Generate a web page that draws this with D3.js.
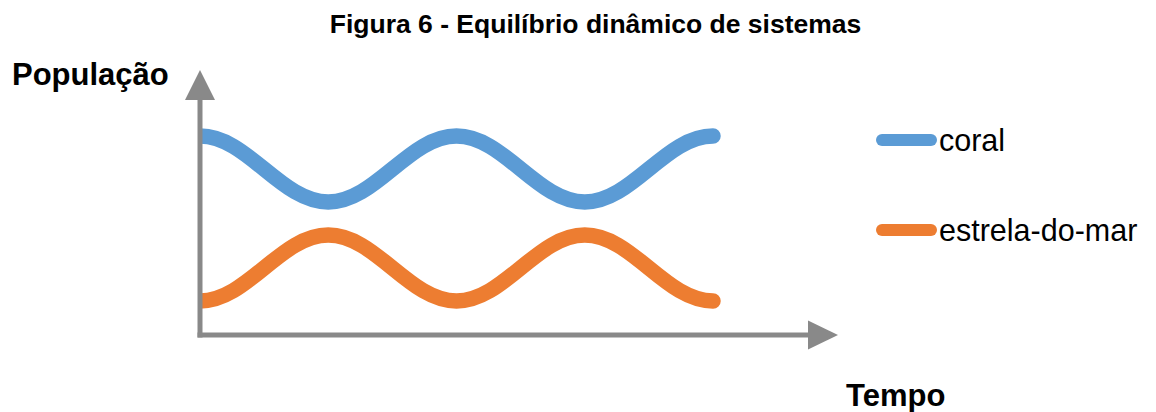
<!DOCTYPE html>
<html>
<head>
<meta charset="utf-8">
<script src="https://cdn.jsdelivr.net/npm/d3@7"></script>
<style>
  html, body { margin: 0; padding: 0; background: #fff; }
  svg { display: block; font-family: "Liberation Sans", Arial, sans-serif; }
</style>
</head>
<body>
<script>
// ---- data ----
const periods = [1, 2, 3, 4, 5];
const coral = [8, 6, 8, 6, 8];
const estrela = [3, 5, 3, 5, 3];
const seriesNames = ["coral", "estrela-do-mar"];
const colors = ["#5B9BD5", "#ED7D31"];
const titleText = "Figura 6 - Equilíbrio dinâmico de sistemas";
const yLabel = "População";
const xLabel = "Tempo";

const W = 1156, H = 412;
const svg = d3.select("body").append("svg").attr("width", W).attr("height", H);

const x = d3.scalePoint().domain(periods).range([200, 713]);
const y = d3.scaleLinear().domain([2, 9]).range([334, 103]);

// smooth curve with horizontal tangents at each data point (wave-like)
function curveWave(context) {
  const a = 0.37;
  let x0, y0, n;
  return {
    areaStart() {}, areaEnd() {},
    lineStart() { n = 0; },
    lineEnd() {},
    point(px, py) {
      px = +px; py = +py;
      if (n === 0) context.moveTo(px, py);
      else {
        const h = px - x0;
        context.bezierCurveTo(x0 + a * h, y0, px - a * h, py, px, py);
      }
      x0 = px; y0 = py; n++;
    }
  };
}

// title
svg.append("text").attr("x", 595.5).attr("y", 33)
  .attr("text-anchor", "middle").attr("font-size", 26.5).attr("font-weight", "bold")
  .attr("fill", "#000").text(titleText);

// clip
svg.append("defs").append("clipPath").attr("id", "plotclip")
  .append("rect").attr("x", 200).attr("y", 0).attr("width", 600).attr("height", H);

const line = d3.line()
  .x((d, i) => x(periods[i]))
  .y(d => y(d))
  .curve(curveWave);

const g = svg.append("g").attr("clip-path", "url(#plotclip)");
[coral, estrela].forEach((vals, k) => {
  g.append("path").datum(vals)
    .attr("d", line)
    .attr("fill", "none")
    .attr("stroke", colors[k])
    .attr("stroke-width", 15.5)
    .attr("stroke-linecap", "round")
    .attr("stroke-linejoin", "round");
});

// axes
const axisColor = "#898989";
const x0 = x.range()[0];
const yBase = 335;
svg.append("line").attr("x1", x0).attr("x2", x0).attr("y1", yBase + 2.5).attr("y2", 98)
  .attr("stroke", axisColor).attr("stroke-width", 5);
svg.append("path").attr("d", `M${x0},70 L${x0 + 15},100 L${x0 - 15},100 Z`).attr("fill", axisColor);
svg.append("line").attr("x1", x0 - 2.5).attr("x2", 810).attr("y1", yBase).attr("y2", yBase)
  .attr("stroke", axisColor).attr("stroke-width", 5);
svg.append("path").attr("d", `M838,${yBase} L808,${yBase - 14.5} L808,${yBase + 14.5} Z`).attr("fill", axisColor);

// axis labels
svg.append("text").attr("x", 12).attr("y", 85).attr("font-size", 31).attr("font-weight", "bold")
  .attr("fill", "#000").text(yLabel);
svg.append("text").attr("x", 846).attr("y", 406).attr("font-size", 31).attr("font-weight", "bold")
  .attr("fill", "#000").text(xLabel);

// legend
const legY = [140, 230];
seriesNames.forEach((name, k) => {
  svg.append("line").attr("x1", 882).attr("x2", 931).attr("y1", legY[k]).attr("y2", legY[k])
    .attr("stroke", colors[k]).attr("stroke-width", 12).attr("stroke-linecap", "round");
  svg.append("text").attr("x", 939).attr("y", legY[k] + 11).attr("font-size", 30.5)
    .attr("fill", "#000").text(name);
});
</script>
</body>
</html>
